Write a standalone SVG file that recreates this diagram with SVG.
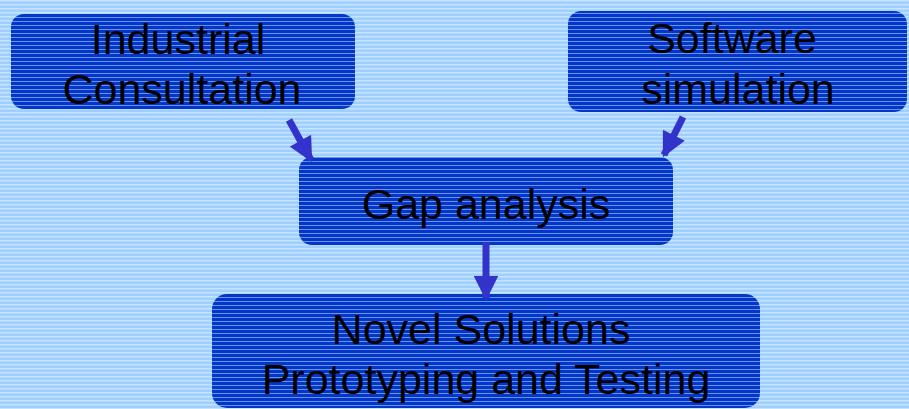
<svg xmlns="http://www.w3.org/2000/svg" width="909" height="409" viewBox="0 0 909 409">
<defs>
<pattern id="bg" patternUnits="userSpaceOnUse" width="8" height="4">
<rect width="8" height="4" fill="#9fcfff"/>
<rect y="0" width="8" height="1.5" fill="#c6e3ff"/>
</pattern>
<pattern id="bx" patternUnits="userSpaceOnUse" width="8" height="4">
<rect width="8" height="4" fill="#0636c8"/>
<rect y="1" width="8" height="1" fill="#6494f2"/>
</pattern>
<marker id="ah" viewBox="0 0 10 10" refX="9" refY="5" markerWidth="3.7" markerHeight="3.5" orient="auto" markerUnits="strokeWidth">
<path d="M0,0 L10,5 L0,10 z" fill="#3333cc"/>
</marker>
<style>
.box{fill:url(#bx);}
.t{font-family:"Liberation Sans",Arial,sans-serif;font-size:43px;fill:#000;text-anchor:middle;}
.c{stroke:#3333cc;stroke-width:7;fill:none;marker-end:url(#ah);}
</style>
</defs>
<rect width="909" height="409" fill="url(#bg)"/>
<g id="industrial">
<rect class="box" x="11" y="14" width="344" height="95" rx="13"/>
<text class="t" x="178" y="54">Industrial</text>
<text class="t" x="182" y="104">Consultation</text>
</g>
<g id="software">
<rect class="box" x="568" y="11" width="339" height="101" rx="13"/>
<text class="t" x="732" y="53">Software</text>
<text class="t" x="738" y="104">simulation</text>
</g>
<g id="gap">
<rect class="box" x="299" y="157" width="374" height="88" rx="13"/>
<text class="t" x="486" y="219">Gap analysis</text>
</g>
<g id="novel">
<rect class="box" x="212" y="294" width="548" height="114" rx="15"/>
<text class="t" x="481" y="344">Novel Solutions</text>
<text class="t" x="486" y="394">Prototyping and Testing</text>
</g>
<g id="connectors">
<line class="c" x1="289" y1="120" x2="311" y2="160"/>
<line class="c" x1="683" y1="117" x2="664" y2="155"/>
<line class="c" x1="486" y1="242" x2="486" y2="298"/>
</g>
</svg>
